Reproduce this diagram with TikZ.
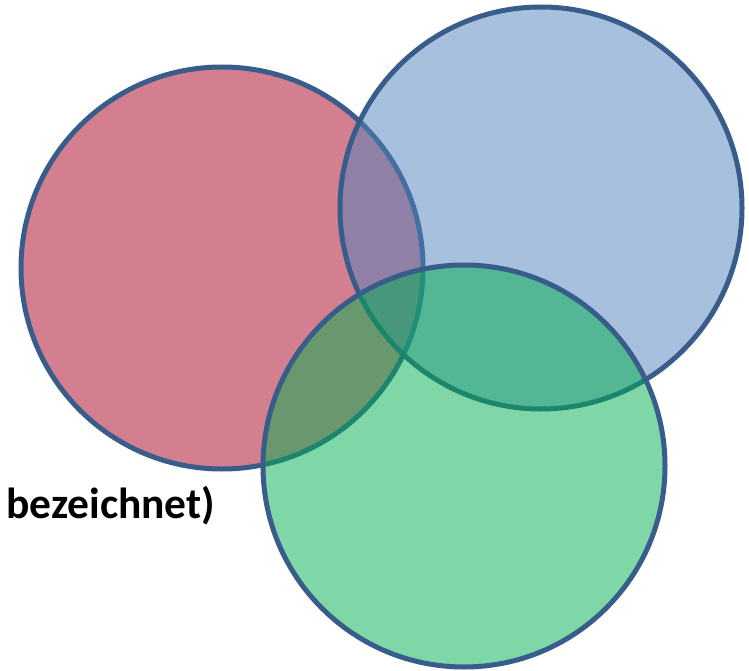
\documentclass[tikz,border=0pt]{standalone}
\usepackage{fontspec}
\setmainfont{Carlito}
\begin{document}
\begin{tikzpicture}[x=1pt,y=-1pt,
  venn/.style={draw=vennline,line width=5pt,fill opacity=0.5},
  lbl/.style={font=\fontsize{43.5}{52}\selectfont\bfseries,inner sep=0pt,anchor=base west}]
\definecolor{vennline}{RGB}{56,93,138}
\definecolor{vred}{RGB}{169,0,31}
\definecolor{vblue}{RGB}{79,129,189}
\definecolor{vgreen}{RGB}{0,176,80}
\useasboundingbox (0,0) rectangle (749,671);
\draw[venn,fill=vred] (222,268) circle[radius=201];
\draw[venn,fill=vblue] (541,208) circle[radius=201];
\draw[venn,fill=vgreen] (464,466) circle[radius=201];
\node[lbl] (t) at (6,518) {bezeichnet)};
\end{tikzpicture}
\end{document}
